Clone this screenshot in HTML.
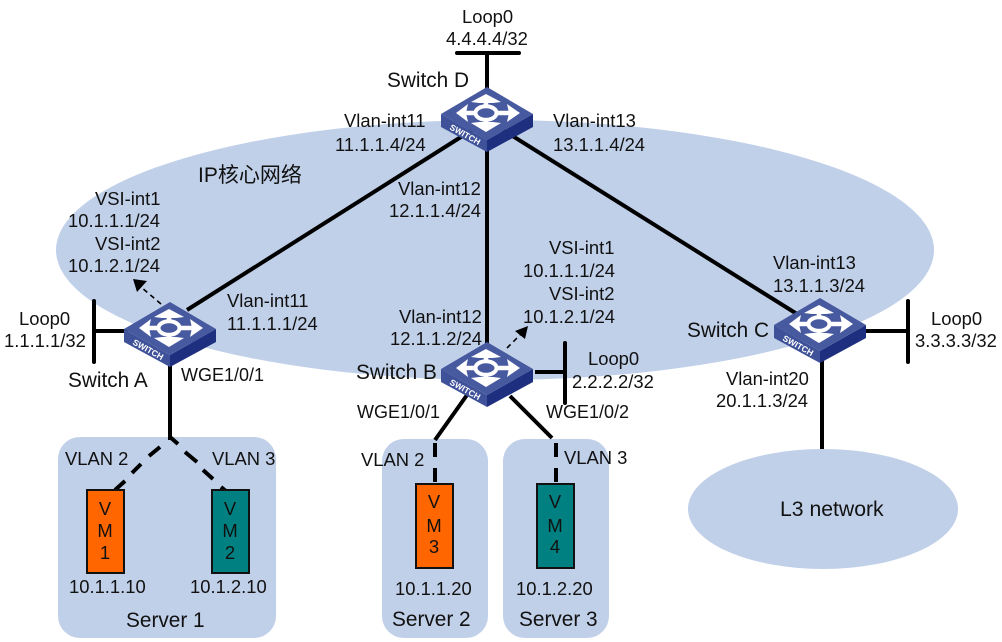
<!DOCTYPE html>
<html><head><meta charset="utf-8"><style>
html,body{margin:0;padding:0;background:#fff;width:1002px;height:642px;overflow:hidden}
svg{display:block}
text{font-family:"Liberation Sans","Noto Sans CJK SC",sans-serif;font-size:18.4px;fill:#111}
.b{font-size:20.8px}
.w{font-size:18px}
.v{font-size:18.4px;text-anchor:middle}
.l{stroke:#000;stroke-width:4;fill:none}
.vm{stroke:#111;stroke-width:2}
</style></head><body>
<svg width="1002" height="642" viewBox="0 0 1002 642" xmlns="http://www.w3.org/2000/svg">
<defs>
<g id="sw">
<path d="M0,53 L46,27 L46,40 L0,65 Z" fill="#1f2f7f"/>
<path d="M-46,27 L0,53 L0,65 L-46,40 Z" fill="#3f5299"/>
<path d="M0,0 L46,27 L0,53 L-46,27 Z" fill="#47599f"/>
<g fill="none" stroke="#fff">
<ellipse cx="-1" cy="26" rx="10.5" ry="6.8" stroke-width="4"/>
<path d="M-12,26H-24M11,26H26M-1,19V12M-1,33V40" stroke-width="4.5"/>
</g>
<g fill="#fff">
<path d="M-1,7 L14,15 L6,16 L-8,16 L-16,15 Z"/>
<path d="M-1,45 L14,36 L6,35 L-8,35 L-16,36 Z"/>
<path d="M-31,26 L-19,17 L-21,26 L-19,35 Z"/>
<path d="M33,26 L20,17 L22,26 L20,35 Z"/>
</g>
<text x="0" y="0" transform="translate(-38,42) rotate(29)" style="font-size:8.5px;font-weight:bold;fill:#fff">SWITCH</text>
</g>
</defs>

<ellipse cx="495" cy="250" rx="439" ry="130" fill="#c1d0e9"/>
<ellipse cx="823" cy="509" rx="135" ry="60" fill="#c1d0e9"/>
<rect x="58" y="437" width="218" height="201" rx="22" fill="#c1d0e9"/>
<rect x="382" y="439" width="106" height="199" rx="22" fill="#c1d0e9"/>
<rect x="503" y="439" width="106" height="199" rx="22" fill="#c1d0e9"/>

<path class="l" stroke-linecap="round" d="M457,53H519M94,301V362M565,343V403M908,301V362"/>
<path class="l" d="M487,53V90M187,310L472,130M487,145V345M503,130L797,314M92,331H128M170,362V440M535,372H565M866,331H908M822,360V449M467,395L435,440M510,396L552,438"/>
<path class="l" d="M160,447L149,456M141,464L132,473M125,481L115,490M170,437L178,444M185,452L197,462M203,470L213,479M221,487L226,491M435,443V457M435,468V482M556,443V457M556,468V482"/>

<path d="M161,304L141,287" stroke="#000" stroke-width="1.6" stroke-dasharray="5 4" fill="none"/>
<path d="M133,279L147,281L137,292Z" fill="#000"/>
<path d="M507,348L521,334" stroke="#000" stroke-width="1.6" stroke-dasharray="5 4" fill="none"/>
<path d="M528,326L525,339L515,331Z" fill="#000"/>

<use href="#sw" x="487" y="87"/>
<use href="#sw" x="170" y="302"/>
<use href="#sw" x="487" y="342"/>
<use href="#sw" x="820" y="298"/>

<rect class="vm" x="87" y="490" width="37" height="83" fill="#ff6600"/>
<rect class="vm" x="212" y="490" width="37" height="83" fill="#008080"/>
<rect class="vm" x="416" y="484" width="37" height="84" fill="#ff6600"/>
<rect class="vm" x="537" y="484" width="37" height="84" fill="#008080"/>

<text class="v" x="105" y="515">V</text><text class="v" x="105" y="537">M</text><text class="v" x="105" y="559">1</text>
<text class="v" x="230" y="515">V</text><text class="v" x="230" y="537">M</text><text class="v" x="230" y="559">2</text>
<text class="v" x="434" y="508">V</text><text class="v" x="434" y="532">M</text><text class="v" x="434" y="553">3</text>
<text class="v" x="555" y="508">V</text><text class="v" x="555" y="532">M</text><text class="v" x="555" y="553">4</text>

<text x="462" y="23">Loop0</text>
<text x="446" y="45">4.4.4.4/32</text>
<text class="b" x="387" y="87">Switch D</text>
<text x="344" y="127">Vlan-int11</text>
<text x="335" y="151">11.1.1.4/24</text>
<text x="553" y="127">Vlan-int13</text>
<text x="553" y="151">13.1.1.4/24</text>
<text x="198" y="182" style="font-size:21px">IP核心网络</text>
<text x="398" y="195">Vlan-int12</text>
<text x="389" y="217">12.1.1.4/24</text>
<text x="95" y="205">VSI-int1</text>
<text x="68" y="227">10.1.1.1/24</text>
<text x="95" y="250">VSI-int2</text>
<text x="68" y="272">10.1.2.1/24</text>
<text x="549" y="254">VSI-int1</text>
<text x="523" y="277">10.1.1.1/24</text>
<text x="549" y="300">VSI-int2</text>
<text x="523" y="323">10.1.2.1/24</text>
<text x="227" y="307">Vlan-int11</text>
<text x="227" y="330">11.1.1.1/24</text>
<text x="19" y="325">Loop0</text>
<text x="4" y="347">1.1.1.1/32</text>
<text class="b" x="68" y="387">Switch A</text>
<text class="w" x="181" y="381">WGE1/0/1</text>
<text x="399" y="323">Vlan-int12</text>
<text x="390" y="345">12.1.1.2/24</text>
<text class="b" x="356" y="379">Switch B</text>
<text x="588" y="365">Loop0</text>
<text x="572" y="388">2.2.2.2/32</text>
<text class="w" x="357" y="418">WGE1/0/1</text>
<text class="w" x="546" y="418">WGE1/0/2</text>
<text x="773" y="269">Vlan-int13</text>
<text x="773" y="292">13.1.1.3/24</text>
<text class="b" x="687" y="337">Switch C</text>
<text x="931" y="325">Loop0</text>
<text x="915" y="347">3.3.3.3/32</text>
<text x="726" y="385">Vlan-int20</text>
<text x="716" y="407">20.1.1.3/24</text>
<text x="780" y="516" style="font-size:21.2px">L3 network</text>
<text x="65" y="465">VLAN 2</text>
<text x="212" y="465">VLAN 3</text>
<text x="361" y="466">VLAN 2</text>
<text x="564" y="464">VLAN 3</text>
<text x="69" y="593">10.1.1.10</text>
<text x="190" y="593">10.1.2.10</text>
<text x="395" y="595">10.1.1.20</text>
<text x="516" y="595">10.1.2.20</text>
<text class="b" x="126" y="627">Server 1</text>
<text class="b" x="392" y="626">Server 2</text>
<text class="b" x="519" y="626">Server 3</text>
</svg>
</body></html>
